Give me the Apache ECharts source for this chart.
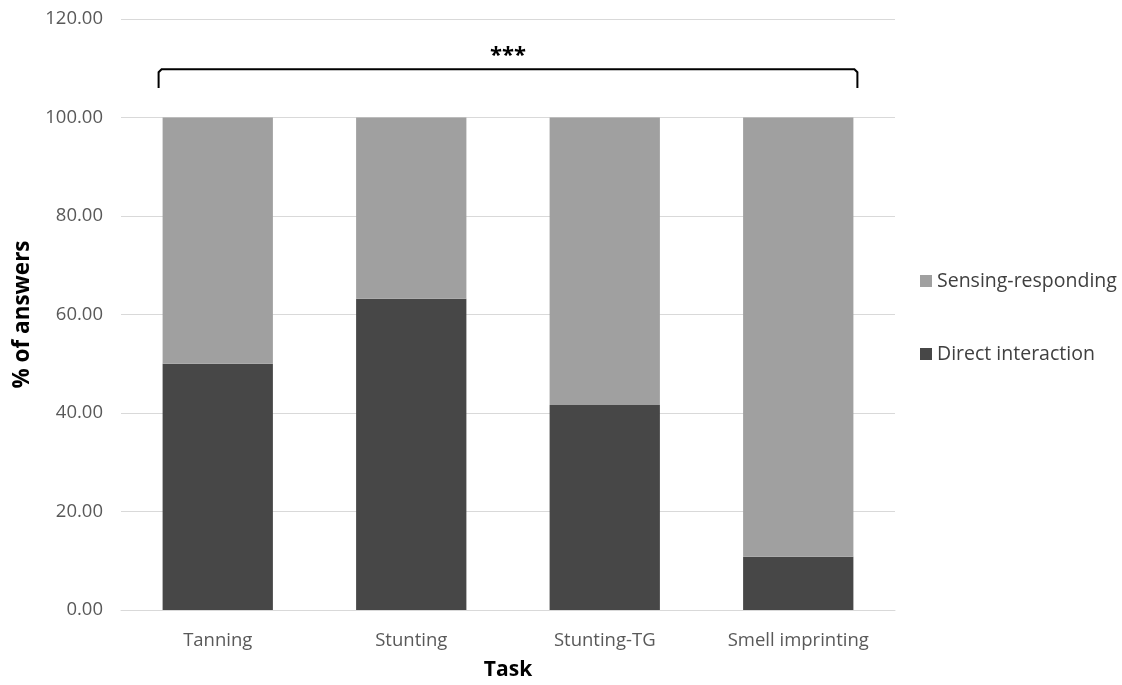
<!DOCTYPE html>
<html><head><meta charset="utf-8">
<script src="https://cdn.jsdelivr.net/npm/echarts@6/dist/echarts.min.js"></script>
<style>html,body{margin:0;padding:0;background:#fff}#c{width:1122px;height:685px}</style>
</head><body><div id="c"></div>
<script>
const categories = ['Tanning', 'Stunting', 'Stunting-TG', 'Smell imprinting'];
const directInteraction = [50.0, 63.2, 41.6, 10.8];
const sensingResponding = [50.0, 36.8, 58.4, 89.2];
const yTicks = { min: 0, max: 120, interval: 20 };
const bracketLevel = 109.8;
const bracketDrop = 3.8;

const font = 'Open Sans, Noto Sans, sans-serif';
const chart = echarts.init(document.getElementById('c'));
chart.setOption({
  animation: false,
  grid: { left: 121, right: 227, top: 19, bottom: 75, outerBoundsMode: 'none', containLabel: false },
  legend: {
    orient: 'vertical', left: 915, top: 266, itemGap: 53,
    itemWidth: 12, itemHeight: 12, icon: 'rect',
    data: ['Sensing-responding', 'Direct interaction'],
    textStyle: { fontFamily: font, fontSize: 19.5, color: '#404040', padding: [0, 0, 0, 0] }
  },
  xAxis: {
    type: 'category', data: categories,
    name: 'Task', nameLocation: 'middle', nameGap: 50,
    nameTextStyle: { fontFamily: font, fontSize: 21, fontWeight: 'bold', color: '#000' },
    axisLine: { lineStyle: { color: '#d9d9d9', width: 1 } },
    axisTick: { show: false },
    axisLabel: { fontFamily: font, fontSize: 18.5, color: '#595959', margin: 21 }
  },
  yAxis: {
    type: 'value', min: yTicks.min, max: yTicks.max, interval: yTicks.interval,
    name: '% of answers', nameLocation: 'middle', nameGap: 80, nameRotate: 90,
    nameTextStyle: { fontFamily: font, fontSize: 22.5, fontWeight: 'bold', color: '#000' },
    axisLine: { show: false }, axisTick: { show: false },
    splitLine: { lineStyle: { color: '#d9d9d9', width: 1 } },
    axisLabel: { fontFamily: font, fontSize: 18.5, color: '#595959', margin: 18,
      formatter: v => v.toFixed(2) }
  },
  series: [
    { name: 'Direct interaction', type: 'bar', stack: 's', data: directInteraction,
      barWidth: '57%', itemStyle: { color: '#474747' } },
    { name: 'Sensing-responding', type: 'bar', stack: 's', data: sensingResponding,
      barWidth: '57%', itemStyle: { color: '#a0a0a0' } }
  ]
});

function drawBracket() {
  const first = chart.convertToPixel({ seriesIndex: 0 }, [0, bracketLevel]);
  const last = chart.convertToPixel({ seriesIndex: 0 }, [categories.length - 1, bracketLevel]);
  const low = chart.convertToPixel({ seriesIndex: 0 }, [0, bracketLevel - bracketDrop]);
  const band = (last[0] - first[0]) / (categories.length - 1);
  const half = band * 0.57 / 2 + 4;
  const x1 = first[0] - half, x2 = last[0] + half, y = first[1], y2 = low[1];
  chart.setOption({
    graphic: [
      { type: 'polyline', shape: { points: [[x1, y2], [x1, y + 3], [x1 + 3, y], [x2 - 3, y], [x2, y + 3], [x2, y2]] },
        style: { stroke: '#000', lineWidth: 2, fill: null } },
      { type: 'text', x: (x1 + x2) / 2, y: y - 14,
        style: { text: '***', fontFamily: font, fontSize: 22, fontWeight: 'bold', fill: '#000', align: 'center', verticalAlign: 'middle' } }
    ]
  });
}
drawBracket();
</script></body></html>
